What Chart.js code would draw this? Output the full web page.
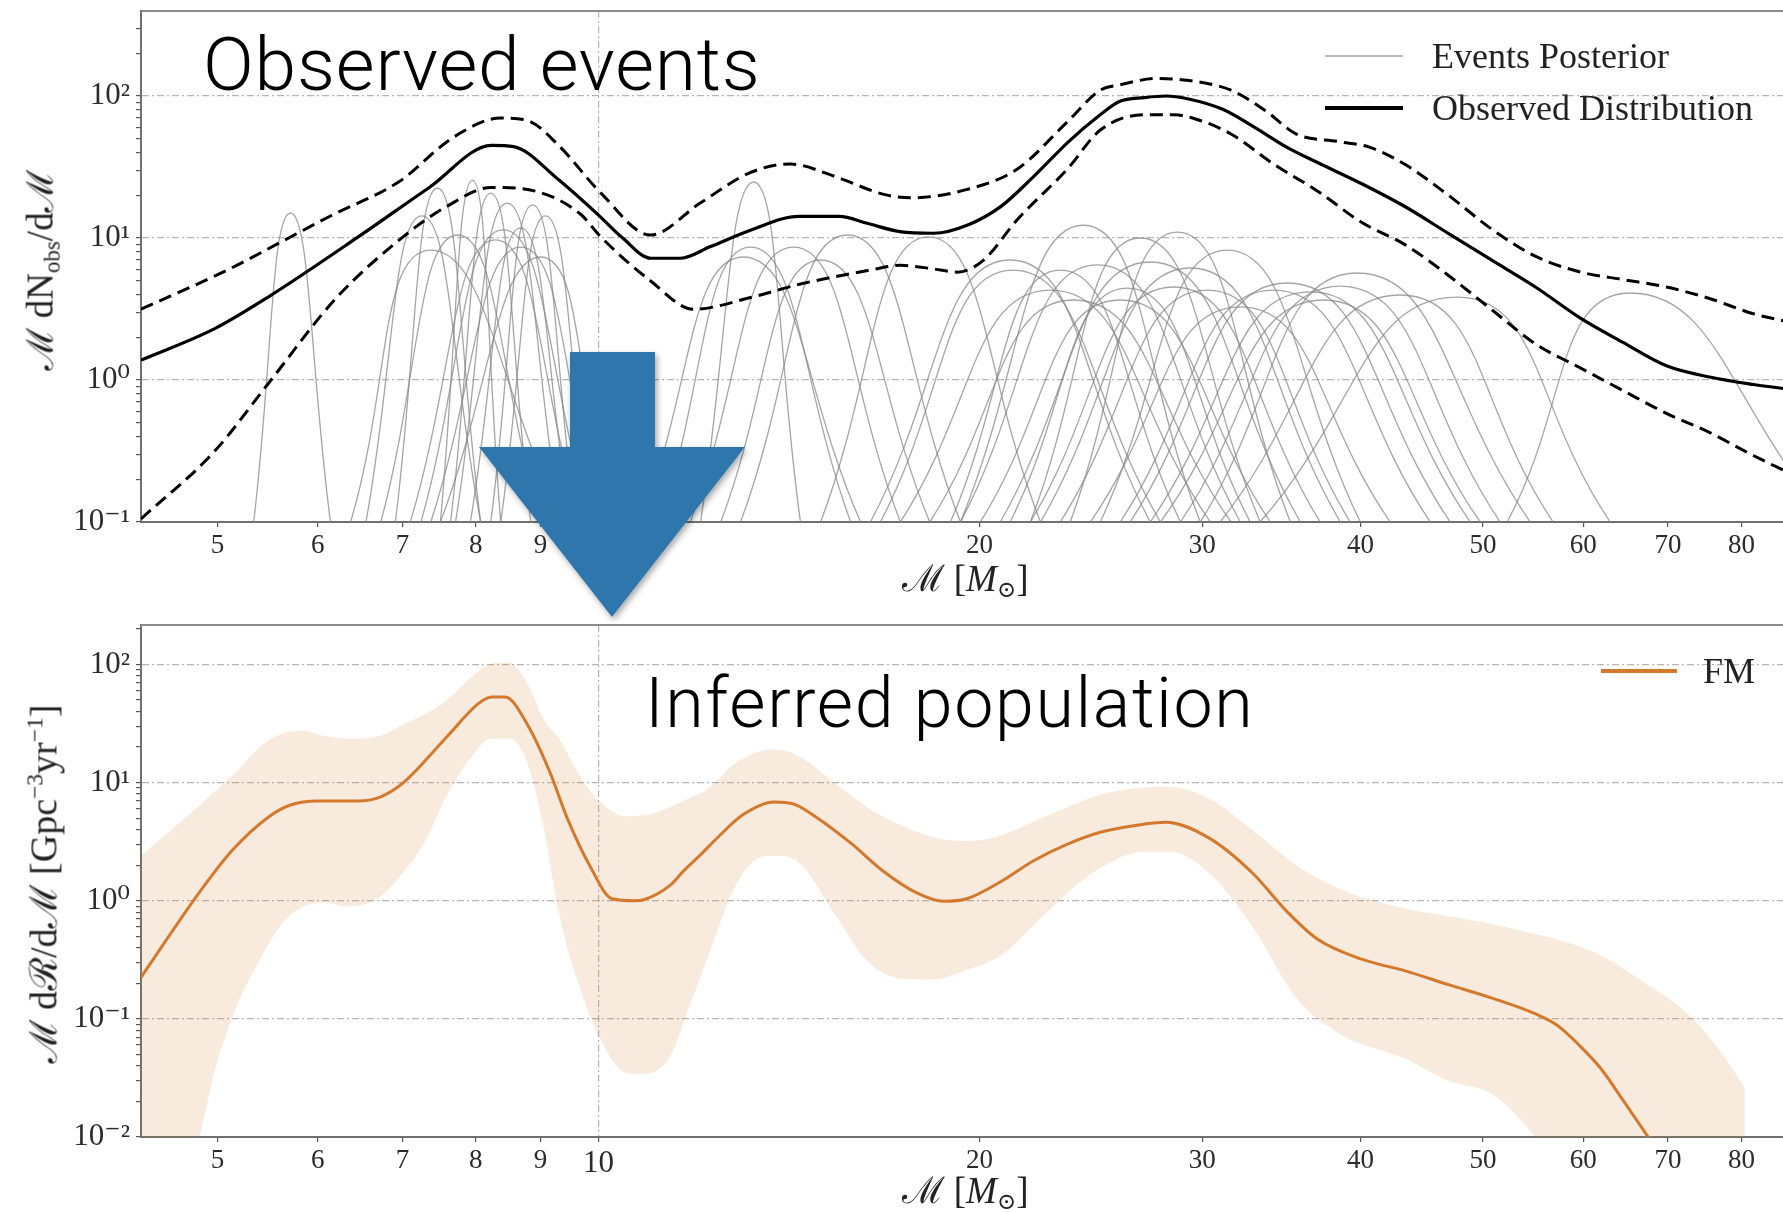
<!DOCTYPE html>
<html>
<head>
<meta charset="utf-8">
<title>Chirp mass distribution</title>
<script src="https://cdn.jsdelivr.net/npm/chart.js@4.4.1/dist/chart.umd.min.js"></script>
<style>
  html, body { margin: 0; padding: 0; background: #fff; }
  body { width: 1783px; height: 1212px; overflow: hidden; position: relative; }
  canvas { position: absolute; left: 0; filter: blur(0.5px); }
  #obsChart { top: 0; }
  #popChart { top: 600px; }
  .serif { position: absolute; white-space: nowrap; line-height: 1; color: #222; filter: blur(0.4px);
           font-family: "Liberation Serif", "DejaVu Serif", serif; }
  .ytitle { transform: translate(-50%, -50%) rotate(-90deg); }
  .xtitle { transform: translate(-50%, -50%); font-size: 37px; }
  .legend-text { transform: translateY(-50%); font-size: 36px; }
  .legend-line { position: absolute; height: 0; filter: blur(0.4px); }
  .headline { position: absolute; white-space: nowrap; line-height: 1; color: #000;
              font-family: Roboto, "Liberation Sans", sans-serif; font-weight: 300; }
  sub, sup { font-size: 62%; }
  sub { vertical-align: -0.3em; }
  sup { vertical-align: 0.6em; }
</style>
</head>
<body>
<canvas id="obsChart" width="1800" height="560"></canvas>
<canvas id="popChart" width="1800" height="575"></canvas>

<!-- axis titles -->
<div class="serif ytitle" style="left:43px; top:270px; font-size:37px">ℳ dN<sub>obs</sub>/dℳ</div>
<div class="serif xtitle" style="left:965px; top:581px">ℳ [<i>M</i><sub>⊙</sub>]</div>
<div class="serif ytitle" style="left:43px; top:884px; font-size:38px">ℳ dℛ/dℳ [Gpc<sup>−3</sup>yr<sup>−1</sup>]</div>
<div class="serif xtitle" style="left:965px; top:1193px">ℳ [<i>M</i><sub>⊙</sub>]</div>

<!-- legends -->
<div class="legend-line" style="left:1325px; top:55px; width:78px; border-top:2px solid #b8b8b8"></div>
<div class="serif legend-text" style="left:1432px; top:56px">Events Posterior</div>
<div class="legend-line" style="left:1325px; top:106px; width:78px; border-top:4px solid #000"></div>
<div class="serif legend-text" style="left:1432px; top:108px">Observed Distribution</div>
<div class="legend-line" style="left:1601px; top:669px; width:76px; border-top:4px solid #d4792c"></div>
<div class="serif legend-text" style="left:1703px; top:671px">FM</div>

<!-- panel captions -->
<div class="headline" style="left:203px; top:27px; font-size:75px; letter-spacing:0.8px">Observed events</div>
<div class="headline" style="left:645px; top:668px; font-size:70px; letter-spacing:1.6px">Inferred population</div>

<svg width="1783" height="1212" style="position:absolute; left:0; top:0; pointer-events:none">
  <defs>
    <filter id="shadow" x="-20%" y="-20%" width="140%" height="140%">
      <feDropShadow dx="2" dy="3" stdDeviation="3" flood-color="#000" flood-opacity="0.35"/>
    </filter>
  </defs>
  <polygon points="570,352 655,352 655,447 745,447 612,617 479,447 570,447"
           fill="#2d76ab" filter="url(#shadow)"/>
</svg>

<script>
// chirp mass ticks shared by both panels
const massTicks = [5, 6, 7, 8, 9, 10, 20, 30, 40, 50, 60, 70, 80];

// observed distribution: median and 90% bounds
const obsMass = [4.35, 4.97, 5.49, 6.45, 7.35, 8.23, 8.57, 9.30, 10.0, 10.45, 11.0, 11.6, 12.26, 13.2, 14.4,
  15.5, 16.3, 17.3, 18.4, 19.6, 20.8, 22.1, 23.5, 24.9, 25.8, 27.0, 28.1, 29.2, 31.1, 32.9, 35.0, 37.0, 40.1,
  43.4, 47.0, 50.8, 55.0, 59.6, 64.5, 69.8, 75.5, 81.8, 87.4];
const obsMedian = [1.38, 2.29, 3.87, 10.1, 22.7, 44.9, 44.0, 25.7, 14.5, 10.0, 7.2, 7.2, 8.7, 11.4, 14.2,
  14.2, 12.7, 11.1, 10.8, 12.4, 16.7, 27.4, 47.4, 73.5, 91.6, 97.5, 100, 95.7, 80.9, 61.2, 43.5, 34.0, 24.1,
  16.6, 10.7, 6.98, 4.52, 2.75, 1.84, 1.26, 1.05, 0.93, 0.86];

const obsUpperMass = [4.35, 5.10, 5.59, 6.14, 6.95, 7.70, 8.37, 8.79, 9.30, 10.04, 10.99, 12.04, 13.19, 14.18,
  15.33, 16.80, 17.64, 19.56, 21.43, 23.47, 24.92, 25.84, 27.62, 29.18, 31.61, 33.68, 35.6, 38.5, 40.7, 43.4,
  46.95, 50.83, 55.03, 59.55, 64.46, 69.8, 75.5, 81.75, 87.4];
const obsUpper = [3.15, 6.0, 9.2, 14.3, 24.8, 52, 70, 67.2, 44.9, 20.8, 10.5, 17.7, 29, 33.2,
  27.4, 20.3, 19.2, 22, 30.6, 65.9, 110, 120, 133, 129, 110, 78.4, 54, 47.7, 43.5, 32.9,
  20, 11.5, 7.42, 5.79, 5.1, 4.52, 3.75, 2.93, 2.55];

const obsLowerMass = [4.35, 4.97, 5.49, 6.20, 7.00, 7.58, 8.23, 8.93, 9.68, 10.04, 10.99, 11.89, 13.19, 14.44,
  16.32, 17.32, 18.39, 19.21, 20.14, 21.43, 23.47, 24.92, 26.98, 28.51, 29.89, 31.61, 34.2, 37.03, 40.08, 43.4,
  46.95, 50.83, 55.03, 59.55, 64.46, 69.8, 75.5, 81.75, 87.4];
const obsLower = [0.105, 0.313, 0.957, 3.75, 10.1, 16.6, 22.7, 21.3, 14.7, 10.2, 5.0, 3.15, 3.81, 4.74,
  5.9, 6.42, 6.06, 5.75, 6.96, 13.5, 30.6, 57.6, 73.7, 73.7, 67.2, 54, 32.9, 21.3, 12.9, 8.95,
  5.45, 3.11, 1.79, 1.23, 0.845, 0.582, 0.427, 0.294, 0.22];

// single-event posteriors: where each one leaves the floor, peaks and returns to it
const eventFloor = 0.1;
const eventLeft = [5.34, 6.37, 6.55, 6.91, 6.73, 7.50, 7.64, 7.71, 8.22, 7.24, 7.37, 7.50, 7.10, 7.92, 8.37,
  12.04, 10.80, 11.19, 11.82, 12.49, 12.95, 14.98, 16.40, 16.70, 19.32, 17.32, 18.27, 19.32, 21.15, 21.94,
  23.59, 21.94, 23.17, 24.92, 24.47, 25.84, 26.31, 27.80, 29.89, 30.99, 33.33, 52.24, 18.97, 20.77, 22.35,
  20.03, 27.29, 28.83];
const eventPeak = [5.71, 7.37, 7.25, 7.46, 7.74, 7.95, 8.22, 8.47, 8.87, 8.41, 8.68, 9.00, 8.29, 8.68, 9.08,
  13.26, 13.02, 13.19, 14.26, 14.98, 15.73, 18.23, 21.15, 21.26, 24.16, 22.75, 23.73, 24.79, 26.17, 26.80,
  28.67, 28.47, 30.27, 31.39, 32.15, 34.14, 35.02, 37.39, 39.77, 43.01, 47.70, 65.35, 23.17, 27.29, 29.36,
  25.84, 36.51, 38.56];
const eventRight = [6.14, 9.38, 8.07, 8.07, 9.00, 8.37, 8.84, 9.33, 9.59, 9.86, 10.04, 10.22, 9.68, 9.50, 9.86,
  14.44, 16.11, 15.82, 17.32, 18.27, 19.32, 22.35, 27.29, 27.80, 29.89, 30.44, 31.61, 32.15, 32.73, 33.33,
  35.21, 37.18, 39.26, 39.99, 42.23, 45.42, 47.10, 49.75, 54.48, 56.80, 63.01, 94.0, 28.83, 35.86, 38.56,
  33.95, 48.85, 51.58];
const eventHeight = [15.0, 8.23, 14.3, 22.5, 10.5, 25.6, 20.7, 17.6, 17.1, 11.4, 8.64, 7.35, 9.7, 11.8, 14.3,
  24.8, 7.35, 8.64, 8.64, 7.0, 10.5, 10.2, 7.0, 5.95, 12.3, 4.30, 3.66, 6.46, 4.44, 10.0,
  11.0, 4.52, 4.30, 8.23, 3.27, 4.30, 4.82, 3.66, 5.67, 3.97, 3.84, 4.10, 5.95, 6.78, 6.15,
  3.66, 4.17, 4.59];

// inferred population (FM): median rate and credible band
const fmMass = [4.35, 4.86, 5.14, 5.49, 5.71, 6.00, 6.45, 6.72, 7.00, 7.59, 8.04, 8.23, 8.44, 8.79, 9.15,
  9.45, 9.84, 10.25, 10.68, 10.86, 11.39, 11.68, 12.04, 12.41, 13.02, 13.76, 14.27, 14.89, 15.82, 16.80,
  17.86, 18.74, 19.55, 20.77, 22.07, 23.45, 24.92, 26.98, 28.06, 30.38, 32.88, 35.04, 37.03, 40.08, 43.4,
  46.95, 50.83, 55.03, 57.25, 59.55, 61.95, 64.46, 67.6];
const fmMedian = [0.225, 1.26, 2.70, 5.15, 6.47, 6.98, 6.98, 7.54, 9.84, 24.5, 46.9, 53.2, 53.0, 30.8, 12.4,
  4.96, 1.99, 1.04, 1.0, 1.02, 1.35, 1.8, 2.45, 3.4, 5.39, 6.87, 6.58, 5.03, 3.09, 1.77,
  1.16, 0.99, 1.04, 1.44, 2.18, 3.0, 3.8, 4.45, 4.63, 3.39, 1.71, 0.798, 0.469, 0.320, 0.255,
  0.195, 0.150, 0.110, 0.088, 0.060, 0.038, 0.0207, 0.0098];

const bandMass = [4.35, 4.82, 4.98, 5.18, 5.40, 5.62, 5.85, 6.05, 6.35, 6.72, 7.00, 7.29, 7.59, 7.90, 8.23,
  8.50, 8.79, 9.07, 9.30, 9.68, 10.09, 10.50, 10.86, 11.39, 11.77, 12.26, 12.79, 13.43, 13.84, 14.44,
  15.34, 16.30, 17.32, 18.40, 19.55, 20.77, 22.07, 23.45, 24.92, 26.98, 28.29, 30.38, 32.88, 35.6, 38.5,
  43.4, 46.95, 50.83, 55.03, 57.25, 61.95, 67.07, 72.61, 76.77, 80.5];
const bandUpper = [2.4, 6.2, 8.5, 12.5, 20, 25.8, 27.5, 25, 23.5, 24.8, 30.8, 38, 50, 75, 102,
  104, 68, 33, 24, 11, 6.5, 5.2, 5.3, 6.2, 7.3, 9.2, 14.3, 18.5, 19.1, 16.4,
  10.1, 6.2, 4.37, 3.43, 3.2, 3.55, 4.69, 6.2, 7.9, 9.1, 9.2, 7.3, 3.95, 2.0, 1.26,
  0.86, 0.74, 0.635, 0.52, 0.469, 0.346, 0.203, 0.110, 0.0556, 0.026];
const bandLower = [0.002, 0.009, 0.038, 0.129, 0.32, 0.637, 0.895, 0.966, 0.895, 1.08, 1.71, 3.14, 7.82, 15.5, 23.6,
  23.6, 14.4, 3.66, 0.8, 0.174, 0.06, 0.035, 0.034, 0.048, 0.119, 0.383, 1.25, 2.34, 2.40, 2.05,
  0.8, 0.31, 0.22, 0.215, 0.26, 0.34, 0.62, 1.15, 1.9, 2.6, 2.6, 1.71, 0.6, 0.15, 0.075,
  0.046, 0.030, 0.023, 0.0098, 0.005, 0.004, 0.003, 0.003, 0.003, 0.003];

const serif = '"Liberation Serif", "DejaVu Serif", serif';
const gridGray = 'rgba(120,120,120,0.55)';
const none = 'rgba(0,0,0,0)';
const supDigits = { '-': '⁻', '0': '⁰', '1': '¹', '2': '²', '3': '³' };

const line = (xs, ys) => xs.map((x, i) => ({ x: x, y: ys[i] }));
const isDecade = v => Math.abs(Math.log10(v) - Math.round(Math.log10(v))) < 1e-9;
const powerLabel = v => '10' + String(Math.round(Math.log10(v))).split('').map(c => supDigits[c]).join('');

// 1..9 x 10^k tick values inside [lo, hi]
function logTicks(lo, hi) {
  const out = [];
  for (let e = Math.floor(Math.log10(lo)); e <= Math.ceil(Math.log10(hi)); e++) {
    for (let k = 1; k <= 9; k++) {
      const v = Number((k * Math.pow(10, e)).toPrecision(6));
      if (v >= lo * 0.999 && v <= hi) out.push(v);
    }
  }
  return out;
}

function massAxis(height) {
  return {
    type: 'logarithmic',
    min: 4.35,
    max: 87.4,
    afterBuildTicks: s => { s.ticks = massTicks.map(v => ({ value: v, major: v === 10 })); },
    afterFit: s => { s.height = height; },
    ticks: {
      autoSkip: false, maxRotation: 0, minRotation: 0, padding: 3, color: '#2b2b2b',
      font: c => ({ family: serif, size: c.tick && c.tick.value === 10 ? 31 : 27 }),
      callback: v => String(v)
    },
    grid: {
      color: c => (c.tick && c.tick.value === 10 ? gridGray : none),
      lineWidth: 1.2, tickLength: 5, tickColor: '#555', tickWidth: 1.2
    },
    border: { color: '#707070', width: 2, dash: [7, 3, 2, 3] }
  };
}

function rateAxis(min, max) {
  return {
    type: 'logarithmic',
    min: min,
    max: max,
    afterBuildTicks: s => { s.ticks = logTicks(min, max).map(v => ({ value: v, major: isDecade(v) })); },
    afterFit: s => { s.width = 141; },
    ticks: {
      autoSkip: false, padding: 6, color: '#2b2b2b',
      font: c => ({ family: serif, size: c.tick && isDecade(c.tick.value) ? 31 : 1 }),
      callback: v => (isDecade(v) ? powerLabel(v) : '')
    },
    grid: {
      color: c => (c.tick && isDecade(c.tick.value) ? gridGray : none),
      lineWidth: 1.2, tickLength: 5, tickColor: '#555', tickWidth: 1.2
    },
    border: { color: '#707070', width: 2, dash: [7, 3, 2, 3] }
  };
}

// top edge of the axes box
const frameTop = {
  id: 'frameTop',
  afterDraw(chart) {
    const { ctx, chartArea } = chart;
    ctx.save();
    ctx.strokeStyle = '#8c8c8c';
    ctx.lineWidth = 2;
    ctx.beginPath();
    ctx.moveTo(chartArea.left, chartArea.top);
    ctx.lineTo(chartArea.right, chartArea.top);
    ctx.stroke();
    ctx.restore();
  }
};

const baseOptions = (padTop, xAxis, yAxis) => ({
  responsive: false,
  animation: false,
  events: [],
  layout: { padding: { top: padTop, right: 10, left: 0, bottom: 0 } },
  plugins: { legend: { display: false }, tooltip: { enabled: false } },
  elements: { point: { radius: 0 } },
  scales: { x: xAxis, y: yAxis }
});

// Observed events panel
const eventSets = eventPeak.map((peak, i) => ({
  label: 'Events Posterior',
  data: [{ x: eventLeft[i], y: eventFloor }, { x: peak, y: eventHeight[i] }, { x: eventRight[i], y: eventFloor }],
  borderColor: 'rgba(135,135,135,0.75)',
  borderWidth: 1.3,
  tension: 0.5,
  order: 2
}));

new Chart(document.getElementById('obsChart'), {
  type: 'line',
  data: {
    datasets: [
      { label: 'Observed Distribution', data: line(obsMass, obsMedian), borderColor: '#000',
        borderWidth: 3.2, cubicInterpolationMode: 'monotone', order: 0 },
      { label: 'upper', data: line(obsUpperMass, obsUpper), borderColor: '#000', borderWidth: 3,
        borderDash: [13, 7], cubicInterpolationMode: 'monotone', order: 0 },
      { label: 'lower', data: line(obsLowerMass, obsLower), borderColor: '#000', borderWidth: 3,
        borderDash: [13, 7], cubicInterpolationMode: 'monotone', order: 0 }
    ].concat(eventSets)
  },
  options: baseOptions(11, massAxis(38), rateAxis(0.1, 397)),
  plugins: [frameTop]
});

// Inferred population panel
new Chart(document.getElementById('popChart'), {
  type: 'line',
  data: {
    datasets: [
      { label: 'FM', data: line(fmMass, fmMedian), borderColor: '#d4792c', borderWidth: 3,
        cubicInterpolationMode: 'monotone', order: 0 },
      { label: 'band upper', data: line(bandMass, bandUpper), borderWidth: 0, borderColor: none,
        backgroundColor: 'rgba(215,125,50,0.16)', fill: '+1', cubicInterpolationMode: 'monotone', order: 1 },
      { label: 'band lower', data: line(bandMass, bandLower), borderWidth: 0, borderColor: none,
        fill: false, cubicInterpolationMode: 'monotone', order: 1 }
    ]
  },
  options: baseOptions(25, massAxis(38), rateAxis(0.01, 216)),
  plugins: [frameTop]
});
</script>
</body>
</html>
